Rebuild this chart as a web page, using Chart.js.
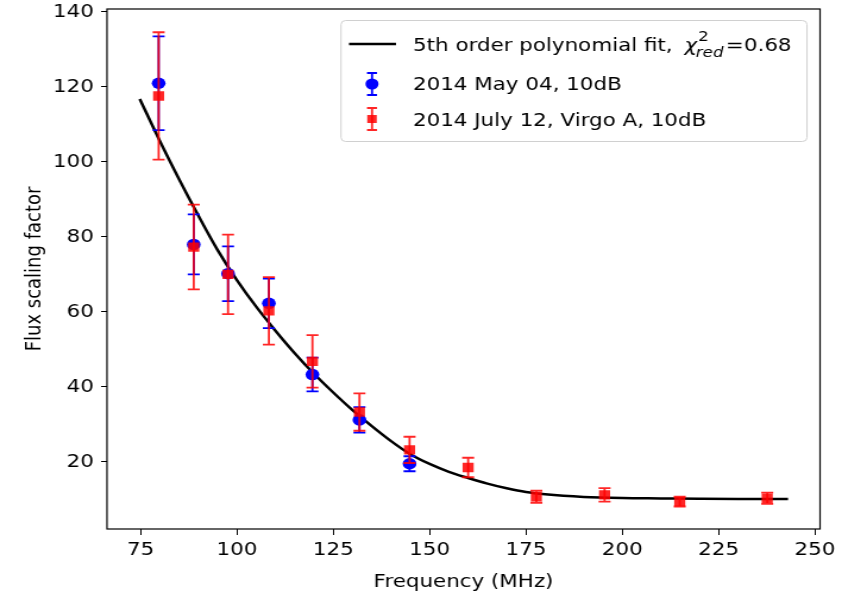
<!DOCTYPE html>
<html>
<head>
<meta charset="utf-8">
<title>Flux scaling factor vs frequency</title>
<script src="https://cdn.jsdelivr.net/npm/chart.js@4.4.0/dist/chart.umd.min.js"></script>
<style>
  body { margin: 0; background: #fff; overflow: hidden; }
  /* the original figure is stretched wider than tall, so draw narrow and stretch */
  #wrap { width: 708px; height: 601px; transform: scaleX(1.1893); transform-origin: 0 0; }
</style>
</head>
<body>
<div id="wrap"><canvas id="fluxChart" width="708" height="601"></canvas></div>
<script>
// values

// 2014 May 04, 10dB (blue circles)
const freqMay = [79.7, 88.8, 97.7, 108.3, 119.6, 131.8, 144.8];
const fluxMay = [121.0, 78.0, 70.2, 62.3, 43.3, 31.2, 19.5];
const errMay = [12.5, 8.0, 7.3, 6.6, 4.5, 3.4, 2.0];

// 2014 July 12, Virgo A, 10dB (red squares)
const freqJuly = [79.7, 88.8, 97.7, 108.3, 119.6, 131.8, 144.8, 160.0, 177.7, 195.4, 214.9, 237.6];
const fluxJuly = [117.6, 77.3, 70.0, 60.3, 46.8, 33.3, 23.2, 18.5, 10.7, 11.2, 9.4, 10.3];
const errJuly = [17.0, 11.3, 10.6, 9.0, 7.0, 5.0, 3.5, 2.6, 1.6, 1.8, 1.3, 1.5];

// polynomial fit curve
const fitFreq = [74.8, 80, 85, 90, 95, 100, 105, 110, 115, 120, 125, 130, 135, 140, 145, 150, 155, 160, 165, 170, 175, 180, 190, 200, 210, 220, 230, 243];
const fitFlux = [116.8, 105.6, 95.4, 85.7, 76.5, 68.5, 61.4, 55.0, 49.0, 43.5, 38.5, 33.8, 29.55, 25.55, 22.05, 19.45, 17.35, 15.7, 14.2, 12.95, 11.95, 11.35, 10.65, 10.35, 10.25, 10.15, 10.1, 10.1];

// axis ticks
const xTicks = [75, 100, 125, 150, 175, 200, 225, 250];
const yTicks = [20, 40, 60, 80, 100, 120, 140];

// legend texts
const fitLabel = '5th order polynomial fit, ';
const chiLabel = { sym: 'χ', sup: '2', sub: 'red', rest: '=0.68' };
const mayLabel = '2014 May 04, 10dB';
const julyLabel = '2014 July 12, Virgo A, 10dB';

const S = 1.1893; // horizontal stretch of the page
const FONT = 'DejaVu Sans';
const FSIZE = 18;
const BLUE = '#0000ff';
const RED = 'rgba(255, 0, 0, 0.85)';

// draws vertical error bars with caps under each scatter dataset
const errorBarPlugin = {
  id: 'errorBars',
  beforeDatasetDraw(chart, args) {
    const ds = chart.data.datasets[args.index];
    if (!ds.errors) return;
    const xs = chart.scales.x, ys = chart.scales.y;
    const ctx = chart.ctx;
    const cap = 6 / S;
    ctx.save();
    ctx.strokeStyle = ds.borderColor;
    ctx.lineWidth = 1.8;
    ds.data.forEach((p, i) => {
      const px = xs.getPixelForValue(p.x);
      const top = ys.getPixelForValue(p.y + ds.errors[i]);
      const bot = ys.getPixelForValue(p.y - ds.errors[i]);
      ctx.beginPath();
      ctx.moveTo(px, top); ctx.lineTo(px, bot);
      ctx.moveTo(px - cap, top); ctx.lineTo(px + cap, top);
      ctx.moveTo(px - cap, bot); ctx.lineTo(px + cap, bot);
      ctx.stroke();
    });
    ctx.restore();
  }
};

// matplotlib style box around the axes + legend in the upper right
const frameLegendPlugin = {
  id: 'frameLegend',
  afterDraw(chart) {
    const { ctx, chartArea: a } = chart;
    ctx.save();
    ctx.strokeStyle = '#000';
    ctx.lineWidth = 1.2;
    ctx.strokeRect(a.left, a.top, a.right - a.left, a.bottom - a.top);

    // legend box
    const bx = 341 / S, by = 20.5, bw = 466 / S, bh = 121;
    ctx.beginPath();
    ctx.roundRect(bx, by, bw, bh, 4);
    ctx.fillStyle = 'rgba(255,255,255,0.8)';
    ctx.fill();
    ctx.strokeStyle = '#d0d0d0';
    ctx.lineWidth = 1;
    ctx.stroke();

    const tx = 413 / S;
    const mx = 372 / S;
    const cap = 5 / S;
    ctx.fillStyle = '#000';
    ctx.textBaseline = 'alphabetic';
    ctx.textAlign = 'left';

    // row 1: fit line, with the reduced chi-square written as math
    ctx.strokeStyle = '#000';
    ctx.lineWidth = 2.5;
    ctx.beginPath();
    ctx.moveTo(349 / S, 44); ctx.lineTo(396 / S, 44);
    ctx.stroke();
    ctx.font = FSIZE + 'px "' + FONT + '"';
    ctx.fillText(fitLabel, tx, 51);
    let cx = tx + ctx.measureText(fitLabel).width + 5 / S;
    ctx.font = 'italic ' + FSIZE + 'px "' + FONT + '"';
    ctx.fillText(chiLabel.sym, cx, 51);
    cx += ctx.measureText(chiLabel.sym).width;
    ctx.font = '14px "' + FONT + '"';
    ctx.fillText(chiLabel.sup, cx + 1, 41);
    const supW = ctx.measureText(chiLabel.sup).width;
    ctx.font = 'italic 14px "' + FONT + '"';
    ctx.fillText(chiLabel.sub, cx - 1, 57);
    cx += Math.max(supW, ctx.measureText(chiLabel.sub).width) + 1;
    ctx.font = FSIZE + 'px "' + FONT + '"';
    ctx.fillText(chiLabel.rest, cx, 51);

    // row 2: blue errorbar marker
    ctx.strokeStyle = BLUE;
    ctx.lineWidth = 1.8;
    ctx.beginPath();
    ctx.moveTo(mx, 73); ctx.lineTo(mx, 95);
    ctx.moveTo(mx - cap, 73); ctx.lineTo(mx + cap, 73);
    ctx.moveTo(mx - cap, 95); ctx.lineTo(mx + cap, 95);
    ctx.stroke();
    ctx.fillStyle = BLUE;
    ctx.beginPath();
    ctx.arc(mx, 84, 5.5, 0, Math.PI * 2);
    ctx.fill();
    ctx.fillStyle = '#000';
    ctx.fillText(mayLabel, tx, 90);

    // row 3: red errorbar marker
    ctx.strokeStyle = RED;
    ctx.beginPath();
    ctx.moveTo(mx, 108); ctx.lineTo(mx, 130);
    ctx.moveTo(mx - cap, 108); ctx.lineTo(mx + cap, 108);
    ctx.moveTo(mx - cap, 130); ctx.lineTo(mx + cap, 130);
    ctx.stroke();
    ctx.fillStyle = RED;
    ctx.fillRect(mx - 4, 115, 8, 8);
    ctx.fillStyle = '#000';
    ctx.fillText(julyLabel, tx, 126);
    ctx.restore();
  }
};

const ctx = document.getElementById('fluxChart').getContext('2d');

const fluxChart = new Chart(ctx, {
  type: 'scatter',
  data: {
    datasets: [
      {
        label: fitLabel,
        type: 'line',
        data: fitFreq.map((f, i) => ({ x: f, y: fitFlux[i] })),
        borderColor: '#000',
        borderWidth: 2.5,
        pointRadius: 0,
        cubicInterpolationMode: 'monotone',
        fill: false,
        order: 3
      },
      {
        label: mayLabel,
        data: freqMay.map((f, i) => ({ x: f, y: fluxMay[i] })),
        errors: errMay,
        backgroundColor: BLUE,
        borderColor: BLUE,
        borderWidth: 0,
        pointStyle: 'circle',
        pointRadius: 5.8,
        order: 2
      },
      {
        label: julyLabel,
        data: freqJuly.map((f, i) => ({ x: f, y: fluxJuly[i] })),
        errors: errJuly,
        backgroundColor: RED,
        borderColor: RED,
        borderWidth: 0,
        pointStyle: 'rect',
        pointRadius: 6.6,
        order: 1
      }
    ]
  },
  options: {
    responsive: false,
    animation: false,
    devicePixelRatio: 1,
    layout: { padding: { top: 9, right: 22 / S, left: 0, bottom: 0 } },
    plugins: {
      legend: { display: false },
      tooltip: { enabled: false }
    },
    scales: {
      x: {
        type: 'linear',
        min: 66.3,
        max: 251.3,
        afterBuildTicks: axis => { axis.ticks = xTicks.map(v => ({ value: v })); },
        afterFit: axis => { axis.height = 72; axis.paddingLeft = 0; axis.paddingRight = 0; },
        grid: { drawOnChartArea: false, drawTicks: true, tickLength: 6, tickColor: '#000', tickWidth: 1 },
        border: { display: false },
        ticks: { color: '#000', font: { family: FONT, size: FSIZE }, padding: 5, maxRotation: 0 },
        title: { display: true, text: 'Frequency (MHz)', color: '#000', font: { family: FONT, size: FSIZE }, padding: { top: 0, bottom: 8 } }
      },
      y: {
        type: 'linear',
        min: 2.1,
        max: 140.8,
        afterBuildTicks: axis => { axis.ticks = yTicks.map(v => ({ value: v })); },
        afterFit: axis => { axis.width = 107 / S; axis.paddingTop = 0; axis.paddingBottom = 0; },
        grid: { drawOnChartArea: false, drawTicks: true, tickLength: 5, tickColor: '#000', tickWidth: 1 },
        border: { display: false },
        ticks: { color: '#000', font: { family: FONT, size: FSIZE }, padding: 6 },
        title: { display: true, text: 'Flux scaling factor', color: '#000', font: { family: FONT, size: FSIZE }, padding: { top: 18.5, bottom: 0 } }
      }
    }
  },
  plugins: [errorBarPlugin, frameLegendPlugin]
});
</script>
</body>
</html>
